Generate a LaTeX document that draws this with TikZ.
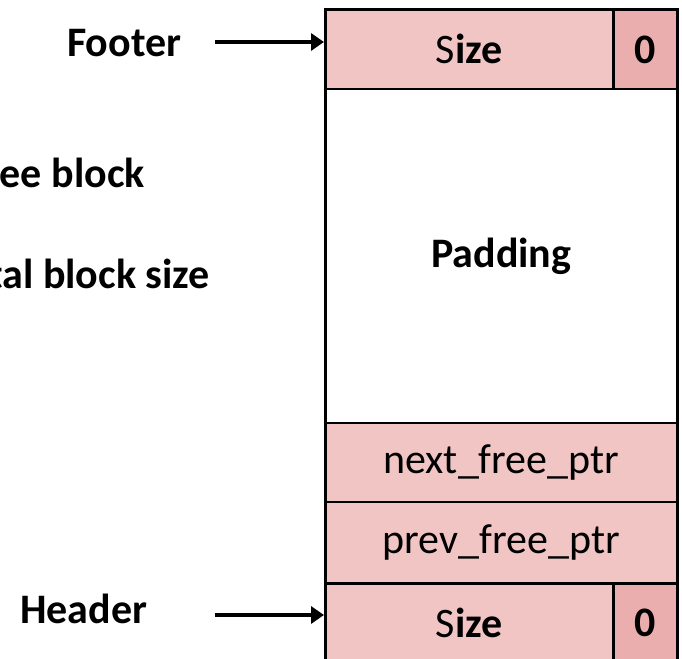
\documentclass[tikz,border=0pt]{standalone}
\usepackage{fontspec}
\setmainfont{Carlito}
\usetikzlibrary{arrows.meta}
\definecolor{cellpink}{RGB}{242,197,197}
\definecolor{flagpink}{RGB}{234,174,174}
\tikzset{
  cell/.style={draw=black, line width=2.6pt, fill=cellpink, inner sep=0pt,
    anchor=north west, font=\fontsize{42}{42}\selectfont},
  flagcell/.style={cell, fill=flagpink, font=\fontsize{42}{42}\selectfont\bfseries},
  lbl/.style={font=\fontsize{42}{42}\selectfont\bfseries, inner sep=0pt},
  ptr/.style={line width=4.5pt, -{Triangle[length=13pt,width=17pt]}}
}
\begin{document}
\begin{tikzpicture}[x=1pt,y=-1pt]
  \useasboundingbox (0,0) rectangle (682,658);
  \clip (0,0) rectangle (682,658);

  % free block layout, top to bottom
  \node[cell, minimum width=288pt, minimum height=79.2pt] (footsize) at (324,8.5) {S\textbf{ize}};
  \node[flagcell, minimum width=64pt, minimum height=79.2pt] (footflag) at (612,8.5) {0};
  \node[cell, fill=white, minimum width=352pt, minimum height=334pt,
        font=\fontsize{42}{42}\selectfont\bfseries] (padding) at (324,87.7) {Padding};
  \node[cell, minimum width=352pt, minimum height=79pt] (next) at (324,421.7) {next\_free\_ptr};
  \node[cell, minimum width=352pt, minimum height=81.6pt] (prev) at (324,500.7) {prev\_free\_ptr};
  \node[cell, minimum width=288pt, minimum height=79pt] (headsize) at (324,582.3) {S\textbf{ize}};
  \node[flagcell, minimum width=64pt, minimum height=79pt] (headflag) at (612,582.3) {0};

  % labels on the left
  \node[lbl, anchor=base west] (footer) at (67,56.7) {Footer};
  \node[lbl, anchor=base west] (header) at (20,623) {Header};
  \node[lbl, anchor=base east] (freeblk) at (145,187) {Free block};
  \node[lbl, anchor=base east] (total) at (210,288) {Total block size};

  % pointers to the boundary tags
  \coordinate (fa) at (215,42);
  \coordinate (ha) at (215,615);
  \draw[ptr] (fa) -- (fa -| footsize.west);
  \draw[ptr] (ha) -- (ha -| headsize.west);
\end{tikzpicture}
\end{document}
